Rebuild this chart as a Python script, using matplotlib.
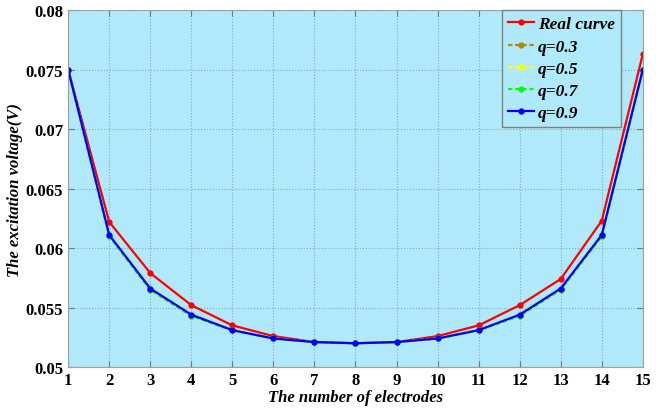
import numpy as np
import matplotlib
matplotlib.use('Agg')
import matplotlib.pyplot as plt

electrodes = list(range(1, 16))
real_curve = [0.0750, 0.0622, 0.0579, 0.0552, 0.0535, 0.0526, 0.0521, 0.0520,
              0.0521, 0.0526, 0.0535, 0.0552, 0.0574, 0.0623, 0.0763]
q03 = [0.0750, 0.0610, 0.0565, 0.0543, 0.0531, 0.0524, 0.0521, 0.0520,
       0.0521, 0.0524, 0.0531, 0.0543, 0.0565, 0.0610, 0.0750]
q05 = [0.0750, 0.0610, 0.0565, 0.0543, 0.0531, 0.0524, 0.0521, 0.0520,
       0.0521, 0.0524, 0.0531, 0.0543, 0.0565, 0.0610, 0.0750]
q07 = [0.0750, 0.0610, 0.0565, 0.0543, 0.0531, 0.0524, 0.0521, 0.0520,
       0.0521, 0.0524, 0.0531, 0.0543, 0.0565, 0.0610, 0.0750]
q09 = [0.0750, 0.0611, 0.0566, 0.0544, 0.0531, 0.0524, 0.0521, 0.0520,
       0.0521, 0.0524, 0.0531, 0.0544, 0.0566, 0.0611, 0.0750]
y_ticks = [0.05, 0.055, 0.06, 0.065, 0.07, 0.075, 0.08]
y_labels = ["0.05", "0.055", "0.06", "0.065", "0.07", "0.075", "0.08"]

plt.rcParams['font.family'] = ['Liberation Serif', 'DejaVu Serif']

fig = plt.figure(figsize=(6.62, 4.14), dpi=100)
ax = fig.add_axes([0.103, 0.111, 0.868, 0.862])
ax.set_facecolor("#b0e9f9")

styles = [
    (real_curve, "#ff0000", "-",  "Real curve"),
    (q03,        "#b8860b", "--", "q=0.3"),
    (q05,        "#ffff00", "--", "q=0.5"),
    (q07,        "#00ff00", "--", "q=0.7"),
    (q09,        "#0000ff", "-",  "q=0.9"),
]
for vals, col, ls, lab in styles:
    line, = ax.plot(electrodes, vals, color=col, linestyle=ls, marker=".",
                    markersize=7, linewidth=1.6, label=lab)
    if ls == "--":
        line.set_dashes((2.0, 1.2))

ax.set_xlim(1, 15)
ax.set_ylim(0.05, 0.08)
ax.set_xticks(electrodes)
ax.set_xticklabels([str(e) for e in electrodes], fontsize=12, fontweight="bold")
ax.set_yticks(y_ticks)
ax.set_yticklabels(y_labels, fontsize=12, fontweight="bold")
ax.tick_params(direction="in", top=True, right=True, length=4, color="#777777")

ax.grid(True, linestyle=":", color="#86aab5", linewidth=0.8)
for sp in ax.spines.values():
    sp.set_color("#a0a0a0")

ax.set_xlabel("The number of electrodes", fontsize=12, fontweight="bold",
              fontstyle="italic", labelpad=1)
ax.set_ylabel("The excitation voltage(V)", fontsize=12, fontweight="bold",
              fontstyle="italic", labelpad=2)

leg = ax.legend(loc="upper right", bbox_to_anchor=(0.962, 1.0),
                prop={"weight": "bold", "style": "italic", "size": 12.5},
                fancybox=False, framealpha=1, facecolor="#b0e9f9",
                edgecolor="#808080", handlelength=1.5, handletextpad=0.2,
                borderpad=0.35, borderaxespad=0, labelspacing=0.35)
leg.get_frame().set_linewidth(1.0)

fig.savefig("out.png", dpi=100, facecolor="white")
